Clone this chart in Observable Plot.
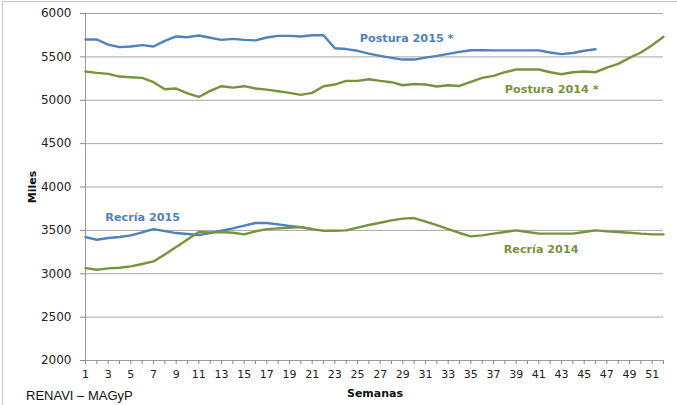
<!DOCTYPE html>
<html>
<head>
<meta charset="utf-8">
<script src="https://cdn.jsdelivr.net/npm/d3@7"></script>
<script src="https://cdn.jsdelivr.net/npm/@observablehq/plot@0.6"></script>
<style>
  html, body { margin: 0; padding: 0; background: #fff; }
  #wrap { position: relative; width: 677px; height: 405px; overflow: hidden; background: #fff; }
  #frame { position: absolute; left: 2px; top: 1px; width: 800px; height: 500px; border: 1.5px solid #c4c4c4; box-sizing: border-box; pointer-events: none; }
  #source { position: absolute; left: 26px; top: 388px; font-family: "Liberation Sans", Arial, sans-serif; font-size: 13px; color: #111; white-space: nowrap; }
  #wrap svg { position: absolute; left: 0; top: 0; }
</style>
</head>
<body>
<div id="wrap"><div id="frame"></div><div id="source">RENAVI – MAGyP</div></div>
<script>
// Weeks (categories)
const weeks = d3.range(1, 53);
const weekLabels = weeks.filter(w => w % 2 === 1);
const yTicks = [2000, 2500, 3000, 3500, 4000, 4500, 5000, 5500, 6000];

// Series values (thousands)
const postura2015 = [5700,5700,5642,5612,5620,5635,5620,5685,5735,5727,
                     5746,5720,5696,5708,5696,5690,5723,5742,5742,5735,
                     5750,5750,5600,5590,5570,5538,5512,5488,5469,5469,
                     5492,5512,5535,5558,5577,5577,5575,5575,5575,5575,
                     5575,5550,5532,5545,5570,5588];
const postura2014 = [5331,5315,5304,5273,5265,5258,5208,5127,5135,5080,
                     5038,5108,5162,5146,5162,5135,5123,5104,5085,5062,
                     5085,5162,5181,5223,5223,5242,5223,5208,5173,5188,
                     5181,5158,5173,5165,5212,5258,5281,5323,5354,5354,
                     5354,5323,5300,5323,5331,5323,5377,5419,5488,5550,
                     5635,5731];
const recria2015 = [3423,3392,3412,3423,3442,3477,3515,3492,3469,3458,
                    3446,3469,3496,3523,3554,3585,3585,3569,3550,3538,
                    3515];
const recria2014 = [3065,3046,3062,3069,3085,3112,3142,3223,3308,3396,
                    3481,3477,3481,3473,3454,3488,3515,3523,3531,3538,
                    3515,3496,3496,3500,3531,3562,3588,3615,3635,3642,
                    3600,3560,3515,3470,3431,3442,3462,3481,3500,3481,
                    3462,3462,3462,3462,3481,3500,3488,3481,3473,3462,
                    3454,3454];

// Series labels (annotation anchors in data units)
const seriesNames = ["Postura 2015 *", "Postura 2014 *", "Recría 2015", "Recría 2014"];
const labelWeeks  = [25.2, 38.0, 2.75, 37.9];
const labelValues = [5712, 5124, 3648, 3280];

const BLUE = "#4F81BD", GREEN = "#77933C";
const colors = [BLUE, GREEN, BLUE, GREEN];

const toRows = (vals) => vals.map((v, i) => ({week: weeks[i], value: v}));
const labels = seriesNames.map((n, i) => ({name: n, week: labelWeeks[i], value: labelValues[i], color: colors[i]}));

const chart = Plot.plot({
  width: 677,
  height: 405,
  marginTop: 13,
  marginRight: 14,
  marginBottom: 45,
  marginLeft: 85,
  style: {fontFamily: "DejaVu Sans, Verdana, sans-serif", background: "transparent", color: "#222"},
  x: {type: "linear", domain: [1, 52]},
  y: {domain: [2000, 6000]},
  marks: [
    Plot.gridY(yTicks, {stroke: "#a6a6a6", strokeOpacity: 1, strokeWidth: 1}),
    Plot.ruleX([1], {stroke: "#9a9a9a", strokeWidth: 1}),
    Plot.ruleY([2000], {stroke: "#9a9a9a", strokeWidth: 1}),
    Plot.axisY({ticks: yTicks, tickSize: 5, tickPadding: 9, fontSize: 12, stroke: "#888",
                tickFormat: d => String(d),
                label: "Miles", labelAnchor: "center", labelOffset: 57, labelArrow: "none"}),
    Plot.axisX({ticks: weeks, tickSize: 4, tickFormat: () => "", stroke: "#888", label: null}),
    Plot.axisX({ticks: weekLabels, tickSize: 0, tickPadding: 10, fontSize: 11, label: null}),
    Plot.line(toRows(postura2015), {x: "week", y: "value", stroke: BLUE, strokeWidth: 2.4}),
    Plot.line(toRows(postura2014), {x: "week", y: "value", stroke: GREEN, strokeWidth: 2.4}),
    Plot.line(toRows(recria2015), {x: "week", y: "value", stroke: BLUE, strokeWidth: 2.4}),
    Plot.line(toRows(recria2014), {x: "week", y: "value", stroke: GREEN, strokeWidth: 2.4}),
    Plot.text(labels, {x: "week", y: "value", text: "name", fill: "color", textAnchor: "start",
                       fontSize: 11.2, fontWeight: "bold", fontFamily: "DejaVu Sans"})
  ]
});
document.getElementById("wrap").appendChild(chart);
const svg = d3.select(chart);
svg.append("text")
  .attr("x", 375).attr("y", 397)
  .attr("text-anchor", "middle")
  .attr("font-family", "DejaVu Sans, Verdana, sans-serif")
  .attr("font-size", 11).attr("font-weight", "bold").attr("fill", "#111")
  .text("Semanas");
svg.selectAll("[aria-label='y-axis label'] text")
  .attr("font-weight", "bold").attr("font-size", 11).attr("fill", "#111");
</script>
</body>
</html>
